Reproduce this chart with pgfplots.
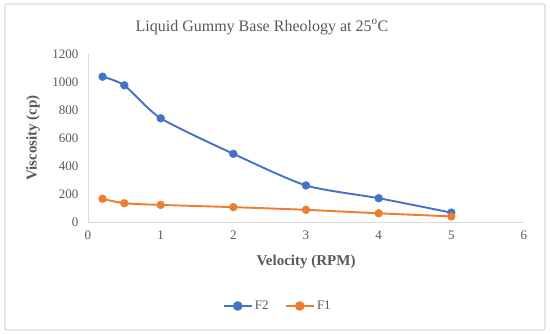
\documentclass[border=0pt]{standalone}
\usepackage{fontspec}
\setmainfont{Liberation Serif}
\usepackage{pgfplots}
\pgfplotsset{compat=1.18}
\definecolor{cblue}{HTML}{4472C4}
\definecolor{corange}{HTML}{ED7D31}
\definecolor{txtgray}{HTML}{595959}
\definecolor{axgray}{HTML}{D9D9D9}
\begin{document}
\begin{tikzpicture}
\useasboundingbox (-88pt,-112pt) rectangle (462pt,222pt);
\fill[white] (-88pt,-112pt) rectangle (462pt,222pt);
\draw[axgray, line width=1.2pt, rounded corners=2pt] (-83pt,-108pt) rectangle (457pt,218pt);
\begin{axis}[
  at={(0,0)}, anchor=south west,
  scale only axis, width=436pt, height=168pt,
  xmin=0, xmax=6, ymin=0, ymax=1200,
  xtick={0,1,...,6}, ytick={0,200,...,1200},
  axis x line=bottom, axis y line=left,
  axis line style={axgray, line width=0.8pt, -},
  major tick length=0pt,
  tick label style={font=\fontsize{13}{15}\selectfont, text=txtgray},
  xticklabel style={yshift=-5pt},
  yticklabel style={xshift=-6pt},
  /pgf/number format/assume math mode=true,
  /pgf/number format/1000 sep={},
  legend style={at={(0.435,-0.50)}, anchor=center, draw=none, fill=none,
    legend columns=2, font=\fontsize{13}{15}\selectfont\color{txtgray},
    /tikz/every even column/.append style={column sep=14pt}},
  legend image code/.code={
    \draw[#1, mark=none] (0cm,0cm) -- (1.0cm,0cm);
    \fill[#1] (0.5cm,0cm) circle (3.8pt);
  },
  clip=false,
]
\addplot[cblue, line width=1.9pt, smooth, tension=0.4, mark=*, mark size=3.9pt, mark options={fill=cblue, draw=cblue, line width=0.5pt}]
  coordinates {(0.2,1038) (0.5,976) (1,741) (2,487) (3,261) (4,170) (5,67)};
\addlegendentry{F2}
\addplot[corange, line width=1.9pt, smooth, tension=0.4, mark=*, mark size=3.9pt, mark options={fill=corange, draw=corange, line width=0.5pt}]
  coordinates {(0.2,166) (0.5,134) (1,122) (2,106) (3,87) (4,62) (5,40)};
\addlegendentry{F1}
\end{axis}
\node[text=txtgray, font=\fontsize{16}{18}\selectfont] at (174pt,195pt) {Liquid Gummy Base Rheology at 25\textsuperscript{o}C};
\node[text=txtgray, font=\fontsize{15}{17}\selectfont\bfseries] at (218pt,-40pt) {Velocity (RPM)};
\node[text=txtgray, font=\fontsize{15}{17}\selectfont\bfseries, rotate=90] at (-55pt,84pt) {Viscosity (cp)};
\end{tikzpicture}
\end{document}
